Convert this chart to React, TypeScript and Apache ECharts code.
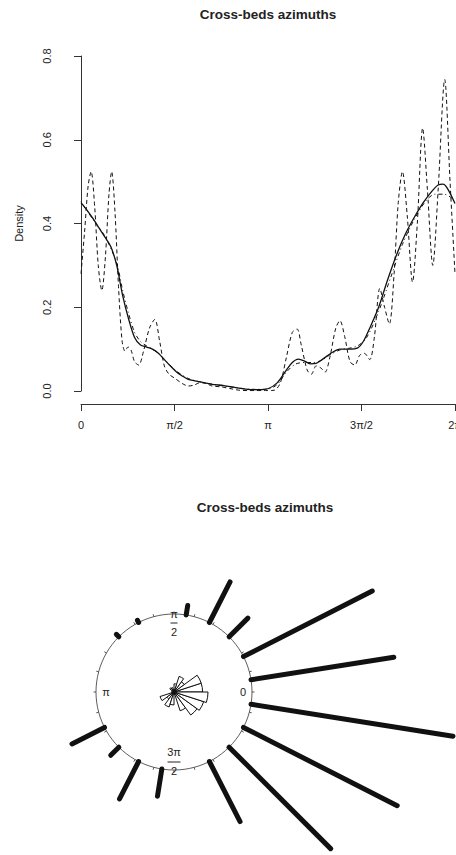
import React, { useEffect, useRef } from "react";
import * as echarts from "echarts";

const TITLE = "Cross-beds azimuths";
const FONT = "'Liberation Sans', Arial, Helvetica, sans-serif";

const xTickLabels = ["0", "π/2", "π", "3π/2", "2π"];
const yTickDecimals = 1;

// Solid curve (main kernel estimate)
const solidX = [0.0, 0.1, 0.2, 0.3, 0.4, 0.5, 0.6, 0.7, 0.8, 0.9, 1.0, 1.1, 1.2, 1.3, 1.4, 1.5, 1.6, 1.7, 1.8, 2.0, 2.2, 2.4, 2.6, 2.8, 3.0, 3.15, 3.3, 3.45, 3.55, 3.65, 3.75, 3.85, 3.95, 4.05, 4.2, 4.35, 4.5, 4.65, 4.75, 4.85, 5.0, 5.15, 5.3, 5.45, 5.6, 5.75, 5.9, 6.0, 6.08, 6.15, 6.283];
const solidY = [0.45, 0.432, 0.412, 0.39, 0.368, 0.345, 0.3, 0.228, 0.172, 0.128, 0.11, 0.105, 0.1, 0.09, 0.075, 0.06, 0.046, 0.036, 0.028, 0.022, 0.016, 0.013, 0.008, 0.004, 0.003, 0.006, 0.02, 0.05, 0.068, 0.076, 0.072, 0.065, 0.066, 0.075, 0.09, 0.1, 0.1, 0.103, 0.12, 0.15, 0.2, 0.265, 0.325, 0.375, 0.415, 0.45, 0.478, 0.492, 0.494, 0.485, 0.448];

// Dot-dash curve (larger bandwidth)
const dotdashX = [0.0, 0.2, 0.4, 0.6, 0.7, 0.8, 0.9, 1.0, 1.1, 1.2, 1.3, 1.4, 1.6, 1.8, 2.0, 2.3, 2.6, 2.9, 3.15, 3.3, 3.45, 3.6, 3.75, 3.9, 4.05, 4.2, 4.35, 4.5, 4.65, 4.8, 5.0, 5.2, 5.4, 5.6, 5.8, 5.95, 6.1, 6.283];
const dotdashY = [0.452, 0.41, 0.37, 0.305, 0.24, 0.185, 0.14, 0.118, 0.108, 0.1, 0.09, 0.076, 0.048, 0.03, 0.022, 0.014, 0.008, 0.004, 0.005, 0.016, 0.045, 0.064, 0.068, 0.068, 0.074, 0.088, 0.098, 0.102, 0.108, 0.128, 0.19, 0.27, 0.35, 0.41, 0.455, 0.47, 0.47, 0.455];

// Dashed curve (small bandwidth)
const dashedX = [0.0, 0.06, 0.12, 0.17, 0.23, 0.29, 0.35, 0.41, 0.47, 0.515, 0.57, 0.63, 0.69, 0.74, 0.79, 0.84, 0.9, 0.97, 1.05, 1.15, 1.24, 1.32, 1.4, 1.48, 1.58, 1.7, 1.8, 1.9, 2.0, 2.1, 2.2, 2.35, 2.5, 2.65, 2.8, 2.95, 3.1, 3.25, 3.35, 3.45, 3.55, 3.63, 3.7, 3.8, 3.87, 3.95, 4.03, 4.1, 4.18, 4.28, 4.35, 4.43, 4.52, 4.6, 4.68, 4.76, 4.85, 4.93, 5.02, 5.1, 5.18, 5.26, 5.33, 5.4, 5.48, 5.57, 5.65, 5.74, 5.82, 5.91, 6.0, 6.11, 6.2, 6.283];
const dashedY = [0.28, 0.38, 0.49, 0.524, 0.44, 0.3, 0.24, 0.32, 0.47, 0.524, 0.43, 0.25, 0.12, 0.095, 0.105, 0.098, 0.07, 0.062, 0.095, 0.15, 0.171, 0.12, 0.06, 0.04, 0.03, 0.018, 0.012, 0.014, 0.02, 0.018, 0.012, 0.01, 0.006, 0.002, 0.001, 0.001, 0.001, 0.002, 0.02, 0.08, 0.14, 0.148, 0.11, 0.05, 0.04, 0.06, 0.055, 0.045, 0.08, 0.15, 0.168, 0.13, 0.07, 0.062, 0.085, 0.09, 0.075, 0.13, 0.245, 0.2, 0.16, 0.28, 0.45, 0.524, 0.42, 0.26, 0.4, 0.628, 0.48, 0.3, 0.48, 0.744, 0.5, 0.28];

// Circular plot: 18-degree bins
const binAngles = [9, 27, 45, 63, 81, 99, 117, 135, 153, 171, 189, 207, 225, 243, 261, 279, 297, 315, 333, 351];
const barLengths = [147, 147, 29, 48, 12, 0, 5, 6, 0, 0, 0, 39, 14, 44.5, 30, 0, 70, 146, 175, 207];
const roseRadii = [28.6, 28.6, 12.7, 16.4, 8.2, 0, 4.7, 5.3, 0, 0, 0, 14.7, 8.8, 15.7, 12.9, 0, 19.7, 28.5, 31.2, 34];

const CIRCLE_R = 78;
const CENTER: [number, number] = [174, 692];

function zip(xs: number[], ys: number[]) {
  return xs.map((x, i) => [x, ys[i]]);
}

export default function App() {
  const ref = useRef<HTMLDivElement>(null);
  useEffect(() => {
    if (!ref.current) return;
    const chart = echarts.init(ref.current, undefined, { renderer: "svg" });
    const txt = { fontFamily: FONT, fontSize: 11, color: "#222" };
    const option: any = {
      animation: false,
      backgroundColor: "#ffffff",
      title: [
        {
          text: TITLE,
          left: 268,
          top: 7,
          textAlign: "center",
          padding: 0,
          textStyle: { fontFamily: FONT, fontSize: 13.5, fontWeight: "bold", color: "#222" },
        },
        {
          text: TITLE,
          left: 265,
          top: 500,
          textAlign: "center",
          padding: 0,
          textStyle: { fontFamily: FONT, fontSize: 13.5, fontWeight: "bold", color: "#222" },
        },
      ],
      grid: { left: 81, right: 1, top: 56, bottom: 464, containLabel: false, outerBoundsMode: "none" },
      xAxis: {
        type: "value",
        min: 0,
        max: 2 * Math.PI,
        interval: Math.PI / 2,
        offset: 13,
        axisLine: { show: true, onZero: false, lineStyle: { color: "#333", width: 1 } },
        axisTick: { show: true, length: 7, lineStyle: { color: "#333", width: 1 } },
        splitLine: { show: false },
        axisLabel: {
          ...txt,
          margin: 15,
          showMaxLabel: true,
          hideOverlap: false,
          formatter: (v: number) => xTickLabels[Math.round(v / (Math.PI / 2))] ?? "",
        },
      },
      yAxis: {
        type: "value",
        min: 0,
        max: 0.8,
        interval: 0.2,
        offset: 14,
        name: "Density",
        nameLocation: "middle",
        nameRotate: 90,
        nameGap: 43,
        nameTextStyle: { ...txt },
        axisLine: { show: true, lineStyle: { color: "#333", width: 1 } },
        axisTick: { show: true, length: 7, lineStyle: { color: "#333", width: 1 } },
        splitLine: { show: false },
        axisLabel: {
          ...txt,
          rotate: 90,
          margin: 15,
          formatter: (v: number) => v.toFixed(yTickDecimals),
        },
      },
      polar: [
        { center: CENTER, radius: [0, CIRCLE_R] },
        { center: CENTER, radius: [0, 300] },
      ],
      angleAxis: [
        {
          polarIndex: 0,
          type: "value",
          min: 0,
          max: 360,
          interval: 15,
          startAngle: 0,
          clockwise: false,
          axisLine: { show: true, lineStyle: { color: "#333", width: 0.8 } },
          axisTick: { show: true, length: 2.5, lineStyle: { color: "#333", width: 0.8 } },
          axisLabel: { show: false },
          splitLine: { show: false },
          splitArea: { show: false },
        },
        {
          polarIndex: 1,
          type: "value",
          min: 0,
          max: 360,
          startAngle: 0,
          clockwise: false,
          show: false,
          splitLine: { show: false },
        },
      ],
      radiusAxis: [
        { polarIndex: 0, min: 0, max: CIRCLE_R, show: false, splitLine: { show: false } },
        { polarIndex: 1, min: 0, max: 300, show: false, splitLine: { show: false } },
      ],
      series: [
        {
          type: "line",
          data: zip(dashedX, dashedY),
          smooth: 0.3,
          showSymbol: false,
          symbol: "none",
          lineStyle: { color: "#111", width: 1, type: [4, 3] },
        },
        {
          type: "line",
          data: zip(dotdashX, dotdashY),
          smooth: 0.3,
          showSymbol: false,
          symbol: "none",
          lineStyle: { color: "#111", width: 1, type: [1, 3, 4, 3] },
        },
        {
          type: "line",
          data: zip(solidX, solidY),
          smooth: 0.3,
          showSymbol: false,
          symbol: "none",
          lineStyle: { color: "#111", width: 1.3 },
        },
        {
          type: "custom",
          coordinateSystem: "polar",
          polarIndex: 1,
          data: binAngles.map((a, i) => [barLengths[i], a]).filter((d) => d[0] > 0),
          renderItem: (params: any, api: any) => {
            const len = api.value(0);
            const ang = api.value(1);
            const p1 = api.coord([CIRCLE_R, ang]);
            const p2 = api.coord([CIRCLE_R + Math.max(len - 2.5, 1.5), ang]);
            return {
              type: "line",
              shape: { x1: p1[0], y1: p1[1], x2: p2[0], y2: p2[1] },
              style: { stroke: "#111", lineWidth: 5, lineCap: "round" },
            };
          },
        },
        {
          type: "custom",
          coordinateSystem: "polar",
          polarIndex: 1,
          data: binAngles.map((a, i) => [roseRadii[i], a]).filter((d) => d[0] > 0),
          renderItem: (params: any, api: any) => {
            const r = api.value(0);
            const ang = api.value(1);
            const c = api.coord([0, ang]);
            const e = api.coord([r, ang]);
            const rp = Math.hypot(e[0] - c[0], e[1] - c[1]);
            return {
              type: "sector",
              shape: {
                cx: c[0],
                cy: c[1],
                r0: 0,
                r: rp,
                startAngle: (-(ang + 9) * Math.PI) / 180,
                endAngle: (-(ang - 9) * Math.PI) / 180,
                clockwise: true,
              },
              style: { fill: "#fff", stroke: "#111", lineWidth: 1 },
            };
          },
        },
        {
          type: "scatter",
          coordinateSystem: "polar",
          polarIndex: 1,
          data: [[0, 0]],
          symbol: "circle",
          symbolSize: 6,
          itemStyle: { color: "#111" },
          silent: true,
        },
      ],
      graphic: [
        { type: "text", x: 243, y: 692, style: { text: "0", fontFamily: FONT, fontSize: 11, fill: "#222", align: "center", verticalAlign: "middle" } },
        { type: "text", x: 106, y: 692, style: { text: "π", fontFamily: FONT, fontSize: 11, fill: "#222", align: "center", verticalAlign: "middle" } },
        { type: "text", x: 174, y: 614, style: { text: "π", fontFamily: FONT, fontSize: 11, fill: "#222", align: "center", verticalAlign: "middle" } },
        { type: "line", shape: { x1: 170.5, y1: 623, x2: 177.5, y2: 623 }, style: { stroke: "#222", lineWidth: 1 } },
        { type: "text", x: 174, y: 632, style: { text: "2", fontFamily: FONT, fontSize: 11, fill: "#222", align: "center", verticalAlign: "middle" } },
        { type: "text", x: 174, y: 752, style: { text: "3π", fontFamily: FONT, fontSize: 11, fill: "#222", align: "center", verticalAlign: "middle" } },
        { type: "line", shape: { x1: 167.5, y1: 762, x2: 180.5, y2: 762 }, style: { stroke: "#222", lineWidth: 1 } },
        { type: "text", x: 174, y: 770.5, style: { text: "2", fontFamily: FONT, fontSize: 11, fill: "#222", align: "center", verticalAlign: "middle" } },
      ],
    };
    chart.setOption(option);
    return () => chart.dispose();
  }, []);
  return (
    <div
      ref={ref}
      style={{ position: "absolute", left: 0, top: 0, width: 456, height: 855, background: "#fff" }}
    />
  );
}
